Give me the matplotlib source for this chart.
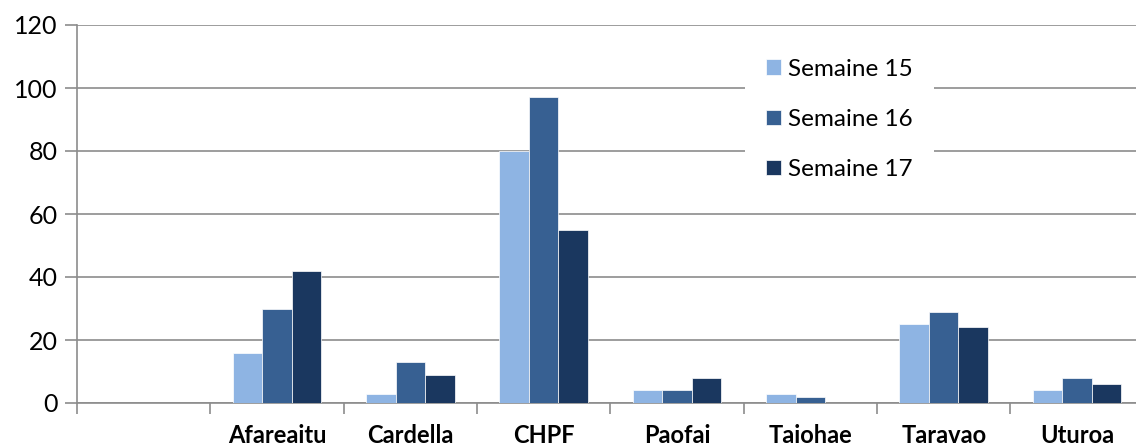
import numpy as np
import matplotlib
matplotlib.use("Agg")
import matplotlib.pyplot as plt

# data
sites = ["", "Afareaitu", "Cardella", "CHPF", "Paofai", "Taiohae", "Taravao", "Uturoa"]
sem15 = [0, 16, 3, 80, 4, 3, 25, 4]
sem16 = [0, 30, 13, 97, 4, 2, 29, 8]
sem17 = [0, 42, 9, 55, 8, 0, 24, 6]
series_names = ["Semaine 15", "Semaine 16", "Semaine 17"]
colors = ["#8EB4E3", "#376092", "#1A375F"]
yticks = [0, 20, 40, 60, 80, 100, 120]

plt.rcParams['font.family'] = ['Lato', 'DejaVu Sans']
grey = '#8c8c8c'

fig = plt.figure(figsize=[11.36, 4.46], dpi=100)
ax = fig.add_axes([77 / 1136, 43 / 446, 1066.7 / 1136, 378 / 446])

x = np.arange(len(sites))
w = 0.222
for i, (vals, name) in enumerate(zip([sem15, sem16, sem17], series_names)):
    ax.bar(x + (i - 1) * w, vals, width=w, color=colors[i], label=name,
           edgecolor='white', linewidth=0.5, zorder=3)

ax.set_xlim(-0.5, len(sites) - 0.5)
ax.set_ylim(0, 120)
ax.set_yticks(yticks)
ax.yaxis.grid(True, color=grey, linewidth=1.2, zorder=0)
ax.set_axisbelow(True)

# category boundaries as major ticks, names on minor ticks
ax.set_xticks(np.arange(len(sites)) - 0.5)
ax.set_xticklabels([])
ax.set_xticks(x, minor=True)
ax.set_xticklabels(sites, minor=True, fontsize=17, fontweight='bold')
ax.tick_params(axis='x', which='major', length=8, width=1.2, color=grey, direction='out')
ax.tick_params(axis='x', which='minor', length=0, pad=15)
ax.tick_params(axis='y', length=9, width=1.2, color=grey, labelsize=18, pad=5)

for s in ['top', 'right']:
    ax.spines[s].set_visible(False)
for s in ['left', 'bottom']:
    ax.spines[s].set_color(grey)
    ax.spines[s].set_linewidth(1.2)

leg = ax.legend(loc='center left', bbox_to_anchor=(0.615, 0.75), fontsize=17.5,
                frameon=True, fancybox=False, edgecolor='none', facecolor='white',
                framealpha=1, handlelength=0.62, handleheight=0.62, handletextpad=0.3,
                labelspacing=1.2, borderpad=0.85)
leg.set_zorder(5)

fig.savefig("out.png", dpi=100)
